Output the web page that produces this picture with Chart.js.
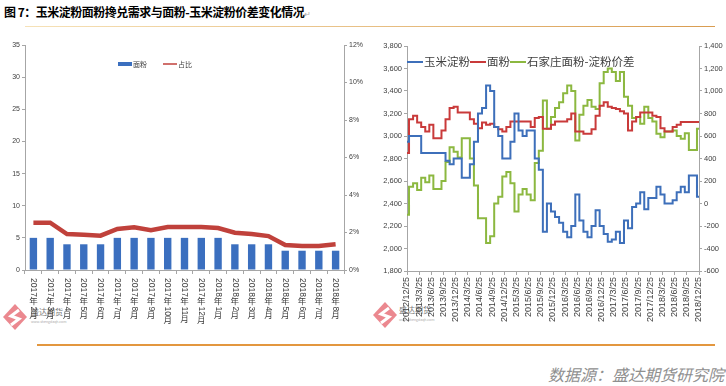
<!DOCTYPE html>
<html>
<head>
<meta charset="utf-8">
<script src="https://cdn.jsdelivr.net/npm/chart.js@4.4.1/dist/chart.umd.min.js"></script>
<style>
body { margin: 0; background: #fff; width: 726px; height: 386px; overflow: hidden; position: relative; font-family: "Noto Sans CJK SC", sans-serif; }
.abs { position: absolute; }
#title { left: 4px; top: 4px; font-size: 12px; font-weight: 700; color: #000; white-space: nowrap; line-height: 16px; letter-spacing: -0.5px; }
#title span { color: #aaa; font-weight: 400; font-size: 8px; }
#rule1 { left: 25px; top: 26px; width: 690px; height: 1px; background: linear-gradient(to right, #f6e2b8, #d99c50); }
#rule2 { left: 37px; top: 344px; width: 678px; height: 2px; background: #e3973f; }
#source { right: 2px; top: 362px; font-size: 16px; font-style: italic; color: #8f8f8f; white-space: nowrap; }
canvas { position: absolute; top: 35px; }
#left { left: 0; }
#right { left: 370px; }
</style>
</head>
<body>
<div id="title" class="abs">图 7：玉米淀粉面粉搀兑需求与面粉-玉米淀粉价差变化情况<span>↵</span></div>
<div id="rule1" class="abs"></div>

<svg class="abs" style="left:0;top:300px" width="80" height="35">
  <polygon points="15,4 27,17 15,30 3,17" fill="#e8737b" opacity="0.85"/>
  <polyline points="19,10 11,16 19,19 11,25" fill="none" stroke="#fff" stroke-width="3"/>
  <text x="31" y="15" font-size="8" fill="#555" opacity="0.8">盛达期货</text>
  <text x="31" y="23" font-size="3.5" fill="#aaa">www.shengdaqh.com</text>
</svg>
<svg class="abs" style="left:370px;top:298px" width="80" height="35">
  <polygon points="15,4 27,17 15,30 3,17" fill="#e8737b" opacity="0.85"/>
  <polyline points="19,10 11,16 19,19 11,25" fill="none" stroke="#fff" stroke-width="3"/>
  <text x="29" y="15" font-size="8" fill="#555" opacity="0.8">盛达期货</text>
  <text x="29" y="23" font-size="3.5" fill="#aaa">www.shengdaqh.com</text>
</svg>

<canvas id="left" width="370" height="310"></canvas>
<canvas id="right" width="356" height="310"></canvas>
<div id="rule2" class="abs"></div>
<div id="source" class="abs">数据源：盛达期货研究院</div>

<script>
// left chart: monthly blending demand
const months = ['2017年2月', '2017年3月', '2017年4月', '2017年5月', '2017年6月', '2017年7月', '2017年8月',
  '2017年9月', '2017年10月', '2017年11月', '2017年12月', '2018年1月', '2018年2月', '2018年3月',
  '2018年4月', '2018年5月', '2018年6月', '2018年7月', '2018年8月'];
const flourBlend = [5, 5, 4, 4, 4, 5, 5, 5, 5, 5, 5, 5, 4, 4, 4, 3, 3, 3, 3];
const sharePct = [2.52, 2.52, 1.92, 1.88, 1.83, 2.19, 2.28, 2.12, 2.29, 2.29, 2.29, 2.24, 1.99, 1.92, 1.81, 1.33, 1.28, 1.28, 1.37];

// right chart: one sample per month from 2012/12/25
const dateTicks = ['2012/12/25', '2013/3/25', '2013/6/25', '2013/9/25', '2013/12/25', '2014/3/25', '2014/6/25',
  '2014/9/25', '2014/12/25', '2015/3/25', '2015/6/25', '2015/9/25', '2015/12/25', '2016/3/25', '2016/6/25',
  '2016/9/25', '2016/12/25', '2017/3/25', '2017/6/25', '2017/9/25', '2017/12/25', '2018/3/25', '2018/6/25',
  '2018/9/25', '2018/12/25'];
const starch = [2950, 3000, 3000, 3000, 2850, 2850, 2850, 2850, 2850, 2850, 2780, 2750, 2800, 2800, 2630, 2630,
  2750, 2950, 3200, 3250, 3450, 3400, 3080, 3000, 2800, 2800, 2950, 3200, 3050, 3000, 3050, 3050, 2800, 2700,
  2150, 2400, 2330, 2280, 2230, 2150, 2100, 2200, 2480, 2250, 2150, 2100, 2200, 2340, 2200, 2130, 2060, 2080,
  2150, 2050, 2250, 2180, 2370, 2400, 2500, 2350, 2450, 2450, 2550, 2480, 2400, 2400, 2430, 2500, 2550, 2500,
  2650, 2650, 2460];
const flour = [2850, 3150, 3180, 3120, 3080, 3040, 3100, 2980, 2980, 3050, 3150, 3250, 3260, 3210, 3210, 3210,
  3150, 3110, 3070, 3120, 3100, 3110, 3080, 3060, 3040, 3080, 3130, 3130, 3130, 3130, 3130, 3080, 3160, 3170,
  3065, 3065, 3100, 3130, 3130, 3130, 3150, 3200, 3040, 3040, 3020, 3020, 3060, 3180, 3270, 3300, 3260, 3250,
  3240, 3220, 3200, 3050, 3130, 3170, 3210, 3210, 3210, 3180, 3170, 3070, 3040, 3040, 3080, 3100, 3125, 3125,
  3125, 3125, 3125];
const spread = [-100, 150, 180, 120, 230, 190, 250, 130, 130, 200, 370, 500, 460, 410, 580, 580, 400, 160, -130,
  -130, -350, -290, 0, 60, 240, 280, 180, -70, 80, 130, 80, 30, 360, 470, 915, 665, 770, 850, 900, 980, 1050,
  1000, 560, 790, 870, 920, 860, 840, 1070, 1170, 1200, 1170, 1090, 1170, 950, 870, 760, 770, 710, 860, 760,
  730, 620, 590, 640, 640, 650, 600, 575, 625, 475, 475, 665];

Chart.defaults.font.family = '"Liberation Sans", Arial, sans-serif';
Chart.defaults.color = '#404040';

const axisGrey = '#a6a6a6';

// legend drawn inside the plot, next to the top edge
const insideLegend = {
  id: 'insideLegend',
  afterDraw(chart, args, opts) {
    const ctx = chart.ctx;
    let x = chart.chartArea.left + opts.x;
    const y = chart.chartArea.top + opts.y;
    ctx.save();
    ctx.font = opts.font;
    ctx.textBaseline = 'middle';
    opts.order.forEach(i => {
      const ds = chart.data.datasets[i];
      if (ds.type === 'bar') {
        ctx.fillStyle = ds.backgroundColor;
        ctx.fillRect(x, y - 2, opts.swatch, 4);
      } else {
        ctx.strokeStyle = ds.borderColor;
        ctx.lineWidth = opts.lineWidth;
        ctx.beginPath();
        ctx.moveTo(x, y);
        ctx.lineTo(x + opts.swatch, y);
        ctx.stroke();
      }
      x += opts.swatch + 1;
      ctx.fillStyle = opts.color;
      ctx.fillText(ds.label, x, y);
      x += ctx.measureText(ds.label).width + opts.gap;
    });
    ctx.restore();
  }
};

// vertical (top to bottom) category labels: digit runs turned, CJK upright
const stackedLabels = {
  id: 'stackedLabels',
  afterDraw(chart) {
    const ctx = chart.ctx;
    const xs = chart.scales.x;
    ctx.save();
    ctx.fillStyle = '#404040';
    chart.data.labels.forEach((label, i) => {
      const cx = xs.getPixelForTick(i);
      let y = xs.top + 8;
      const parts = label.match(/[0-9]+|[^0-9]/g);
      parts.forEach(p => {
        if (/^[0-9]/.test(p)) {
          ctx.font = '8.5px "Liberation Sans", Arial, sans-serif';
          const w = ctx.measureText(p).width;
          ctx.save();
          ctx.translate(cx, y);
          ctx.rotate(Math.PI / 2);
          ctx.textAlign = 'left';
          ctx.textBaseline = 'middle';
          ctx.fillText(p, 0, 0);
          ctx.restore();
          y += w + 0.5;
        } else {
          ctx.font = '8.5px "Noto Sans CJK SC"';
          ctx.textAlign = 'center';
          ctx.textBaseline = 'top';
          ctx.fillText(p, cx, y - 1);
          y += 9;
        }
      });
    });
    ctx.restore();
  }
};

function sideAxis(extra) {
  return Object.assign({
    grid: { drawOnChartArea: false, tickLength: 3, color: axisGrey },
    border: { color: axisGrey },
  }, extra);
}

new Chart(document.getElementById('left'), {
  type: 'bar',
  data: {
    labels: months,
    datasets: [
      {
        type: 'bar',
        label: '面粉',
        data: flourBlend,
        yAxisID: 'y',
        backgroundColor: '#3b6fbf',
        categoryPercentage: 1,
        barPercentage: 0.44,
        order: 1
      },
      {
        type: 'line',
        label: '占比',
        data: sharePct,
        yAxisID: 'y1',
        borderColor: '#c0413b',
        borderWidth: 4.5,
        pointRadius: 0,
        tension: 0,
        order: 0
      }
    ]
  },
  options: {
    responsive: false,
    animation: false,
    devicePixelRatio: 1,
    layout: { padding: { top: 10, left: 0, right: 0, bottom: 0 } },
    plugins: {
      legend: { display: false },
      tooltip: { enabled: false },
      insideLegend: { x: 93, y: 19, font: '7px "Noto Sans CJK SC"', color: '#404040', swatch: 14, lineWidth: 1.5, gap: 16, order: [0, 1] }
    },
    scales: {
      x: {
        grid: { offset: true, drawOnChartArea: false, tickLength: 4, color: axisGrey },
        border: { color: axisGrey },
        ticks: { display: false },
        afterFit: s => { s.height = 75; }
      },
      y: sideAxis({
        position: 'left', min: 0, max: 35,
        ticks: { stepSize: 5, font: { size: 7 }, padding: 2 },
        afterFit: s => { s.width = 25; }
      }),
      y1: sideAxis({
        position: 'right', min: 0, max: 12,
        ticks: { stepSize: 2, font: { size: 7 }, padding: 2, callback: v => v + '%' },
        afterFit: s => { s.width = 26; }
      })
    }
  },
  plugins: [insideLegend, stackedLabels]
});

const toPoints = arr => arr.map((v, i) => ({ x: i, y: v }));

new Chart(document.getElementById('right'), {
  type: 'line',
  data: {
    datasets: [
      { label: '玉米淀粉', data: toPoints(starch), yAxisID: 'y', borderColor: '#3d6fba' },
      { label: '面粉', data: toPoints(flour), yAxisID: 'y', borderColor: '#c93a3a' },
      { label: '石家庄面粉-淀粉价差', data: toPoints(spread), yAxisID: 'y1', borderColor: '#8cb840' }
    ]
  },
  options: {
    responsive: false,
    animation: false,
    devicePixelRatio: 1,
    layout: { padding: { top: 11, left: 0, right: 0, bottom: 0 } },
    elements: {
      line: { borderWidth: 2, tension: 0, stepped: 'middle' },
      point: { radius: 0 }
    },
    plugins: {
      legend: { display: false },
      tooltip: { enabled: false },
      insideLegend: { x: 0, y: 16, font: '11.5px "Noto Sans CJK SC"', color: '#404040', swatch: 16, lineWidth: 2, gap: 0, order: [0, 1, 2] }
    },
    scales: {
      x: {
        type: 'linear', min: 0, max: 72,
        grid: { drawOnChartArea: false, tickLength: 4, color: axisGrey },
        border: { color: axisGrey },
        ticks: {
          stepSize: 3, autoSkip: false, minRotation: 90, maxRotation: 90, padding: 2,
          font: { size: 9 },
          callback: v => dateTicks[Math.round(v / 3)]
        },
        afterFit: s => { s.height = 74; }
      },
      y: sideAxis({
        position: 'left', min: 1800, max: 3800,
        ticks: { stepSize: 200, font: { size: 7.5 }, padding: 2, callback: v => v.toLocaleString('en-US') },
        afterFit: s => { s.width = 37; }
      }),
      y1: sideAxis({
        position: 'right', min: -600, max: 1400,
        ticks: { stepSize: 200, font: { size: 7.5 }, padding: 2, callback: v => v.toLocaleString('en-US') },
        afterFit: s => { s.width = 27; }
      })
    }
  },
  plugins: [insideLegend]
});
</script>
</body>
</html>
